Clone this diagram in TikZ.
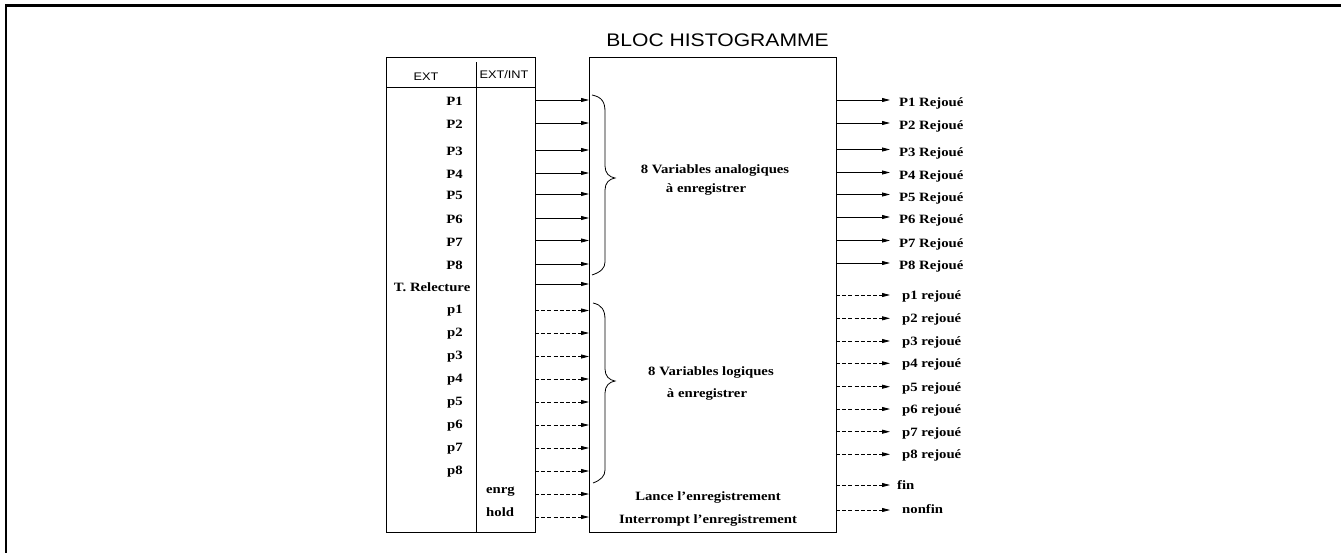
\documentclass[tikz,border=0pt]{standalone}
\usepackage{fontspec}
\setmainfont[FakeStretch=1.16]{Liberation Serif}
\newfontfamily\hdrfont[FakeStretch=1.16]{Liberation Sans}
\usetikzlibrary{arrows.meta}
\begin{document}
\begin{tikzpicture}[x=1pt,y=-1pt,
  lab/.style={font=\fontsize{12.7}{14}\selectfont\bfseries, inner sep=0pt},
  hdr/.style={font=\hdrfont\fontsize{11}{13}\selectfont, inner sep=0pt},
  ttl/.style={font=\hdrfont\fontsize{18.2}{20}\selectfont, inner sep=0pt},
  sig/.style={line width=0.8pt, -{Triangle[length=8pt,width=4pt]}},
  dsig/.style={sig, dash pattern=on 4pt off 2.2pt},
  boxline/.style={draw, line width=0.9pt},
  bracestyle/.style={draw, line width=0.8pt}]
\useasboundingbox (0,0) rectangle (1341,552);
% outer frame (top and left)
\draw[line width=2.4pt] (6,553) -- (6,5.5) -- (1342,5.5);
% title
\node[ttl, anchor=base] (title) at (717.5,46) {BLOC HISTOGRAMME};
% left table
\draw[boxline] (386,57) rectangle (535,532.5);
\draw[boxline] (476,62) -- (476,532.5);
\draw[boxline] (386,87.5) -- (535,87.5);
\node[hdr, anchor=base] (ext) at (426,80) {EXT};
\node[hdr, anchor=base] (extint) at (504,78) {EXT/INT};
% main block
\node[boxline, minimum width=247pt, minimum height=475pt, anchor=north west, inner sep=0pt] (bloc) at (589,57) {};
% solid inputs
\foreach \n/\t/\y/\b in {a1/P1/100/105.5, a2/P2/123/128.5, a3/P3/150/155.5, a4/P4/173/178.5,
  a5/P5/194/199.5, a6/P6/218/223.5, a7/P7/240.5/246, a8/P8/264/269.5}{
  \node[lab, anchor=base east] (lab\n) at (463,\b) {\t};
  \coordinate (s\n) at (535,\y);
  \coordinate (e\n) at (589,\y);
  \draw[sig] (s\n) -- (e\n);
}
\node[lab, anchor=base east] (labtr) at (470.5,291.5) {T. Relecture};
\coordinate (str) at (535,284);
\coordinate (etr) at (589,284);
\draw[sig] (str) -- (etr);
% dashed inputs
\foreach \n/\t/\y/\b in {b1/p1/310.5/313.5, b2/p2/333/336, b3/p3/356.5/359.5, b4/p4/379/382,
  b5/p5/402/405, b6/p6/425/428, b7/p7/448/451, b8/p8/471/474}{
  \node[lab, anchor=base east] (lab\n) at (463,\b) {\t};
  \coordinate (s\n) at (535,\y);
  \coordinate (e\n) at (589,\y);
  \draw[dsig] (s\n) -- (e\n);
}
\node[lab, anchor=base west] (labenrg) at (486,493) {enrg};
\node[lab, anchor=base west] (labhold) at (486,516.5) {hold};
\coordinate (senrg) at (535,494);
\coordinate (eenrg) at (589,494);
\coordinate (shold) at (535,517);
\coordinate (ehold) at (589,517);
\draw[dsig] (senrg) -- (eenrg);
\draw[dsig] (shold) -- (ehold);
% braces
\draw[bracestyle] (592,95) .. controls (602,97) and (605,102) .. (605,112) -- (605,166)
  .. controls (605,173) and (609,177) .. (615,178) .. controls (609,179) and (605,183) .. (605,190)
  -- (605,262) .. controls (605,268) and (601,272) .. (592,275);
\draw[bracestyle] (593,303) .. controls (602,305) and (605,310) .. (605,320) -- (605,369)
  .. controls (605,376) and (609,380) .. (615,381) .. controls (609,382) and (605,386) .. (605,393)
  -- (605,470) .. controls (605,476) and (601,480) .. (593,483);
% block texts
\node[lab, anchor=base] (va1) at (715,173) {8 Variables analogiques};
\node[lab, anchor=base] (va2) at (706,192.5) {à enregistrer};
\node[lab, anchor=base] (vl1) at (711,375) {8 Variables logiques};
\node[lab, anchor=base] (vl2) at (707,397) {à enregistrer};
\node[lab, anchor=base] (lance) at (708,500) {Lance l’enregistrement};
\node[lab, anchor=base] (interr) at (708,523) {Interrompt l’enregistrement};
% solid outputs
\foreach \n/\t/\y in {c1/P1/100, c2/P2/123, c3/P3/149.5, c4/P4/172.5, c5/P5/194.5, c6/P6/217, c7/P7/240.5, c8/P8/263}{
  \coordinate (o\n) at (836,\y);
  \coordinate (q\n) at (890,\y);
  \draw[sig] (o\n) -- (q\n);
  \node[lab, anchor=base west] (lab\n) at (899,\y+6.5) {\t\ Rejoué};
}
% dashed outputs
\foreach \n/\t/\y in {d1/p1/295, d2/p2/318.3, d3/p3/341, d4/p4/363.3, d5/p5/386.7, d6/p6/409, d7/p7/431.7, d8/p8/454.3}{
  \coordinate (o\n) at (836,\y);
  \coordinate (q\n) at (890,\y);
  \draw[dsig] (o\n) -- (q\n);
  \node[lab, anchor=base west] (lab\n) at (902,\y+4.5) {\t\ rejoué};
}
\coordinate (ofin) at (836,485);
\coordinate (qfin) at (890,485);
\draw[dsig] (ofin) -- (qfin);
\node[lab, anchor=base west] (labfin) at (897,489.3) {fin};
\coordinate (ononfin) at (836,510);
\coordinate (qnonfin) at (890,510);
\draw[dsig] (ononfin) -- (qnonfin);
\node[lab, anchor=base west] (labnonfin) at (902,513.3) {nonfin};
\end{tikzpicture}
\end{document}
